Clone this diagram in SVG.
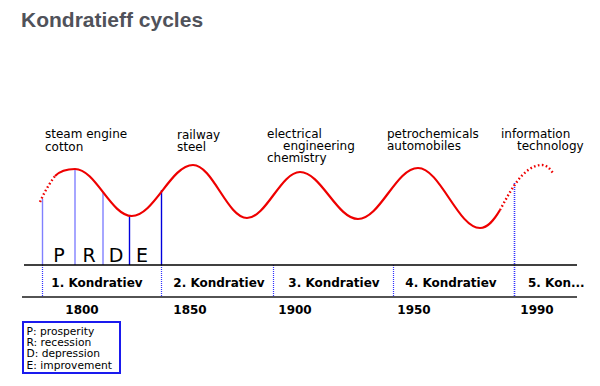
<svg xmlns="http://www.w3.org/2000/svg" width="600" height="386" viewBox="0 0 600 386">
<style>
.title{font-family:"Liberation Sans",Arial,sans-serif;font-weight:bold;font-size:21px;fill:#50525a}
.lbl{font-family:"DejaVu Sans",sans-serif;font-size:12px;fill:#000}
.phase{font-family:"DejaVu Sans",sans-serif;font-size:19px;fill:#000;text-anchor:middle}
.kon{font-family:"DejaVu Sans",sans-serif;font-weight:bold;font-size:12px;fill:#000;text-anchor:middle}
.year{font-family:"DejaVu Sans",sans-serif;font-weight:bold;font-size:12px;fill:#000;text-anchor:middle}
.leg{font-family:"DejaVu Sans",sans-serif;font-size:10.7px;fill:#000}
.wave{fill:none;stroke:#ee0000;stroke-width:2.2}
.dots{fill:none;stroke:#ee0000;stroke-width:2.4;stroke-dasharray:1.6,2.4}
.lite{stroke:#8080ff;stroke-width:1.4}
.dark{stroke:#0000dd;stroke-width:1.4}
.div{stroke:#3030ff;stroke-width:1.2;stroke-dasharray:1,1}
.axis{stroke:#000;stroke-width:1.5}
</style>
<text class="title" x="21" y="26.5">Kondratieff cycles</text>

<g id="labels">
<text class="lbl" x="45" y="138">steam engine</text>
<text class="lbl" x="45" y="151">cotton</text>
<text class="lbl" x="177" y="138.5">railway</text>
<text class="lbl" x="177" y="151">steel</text>
<text class="lbl" x="267" y="138">electrical</text>
<text class="lbl" x="283" y="150">engineering</text>
<text class="lbl" x="267" y="162">chemistry</text>
<text class="lbl" x="387" y="138">petrochemicals</text>
<text class="lbl" x="387" y="150">automobiles</text>
<text class="lbl" x="501" y="138">information</text>
<text class="lbl" x="517" y="150">technology</text>
</g>

<g id="connectors">
<line class="lite" x1="42.5" y1="199" x2="42.5" y2="265"/>
<line class="lite" x1="75" y1="169" x2="75" y2="265"/>
<line class="lite" x1="103" y1="193" x2="103" y2="265"/>
<line class="dark" x1="129.5" y1="215" x2="129.5" y2="265"/>
<line class="dark" x1="161.5" y1="190" x2="161.5" y2="265"/>
<line class="div" x1="42.5" y1="265" x2="42.5" y2="297"/>
<line class="div" x1="161.5" y1="265" x2="161.5" y2="297"/>
<line class="div" x1="273.5" y1="265" x2="273.5" y2="297"/>
<line class="div" x1="393.5" y1="265" x2="393.5" y2="297"/>
<line class="div" x1="514.5" y1="183" x2="514.5" y2="297" style="stroke-width:1.6"/>
<line class="axis" x1="24" y1="265" x2="577" y2="265"/>
<line class="axis" x1="22" y1="297" x2="577" y2="297" style="stroke:#1a1a1a"/>
</g>

<g id="wave">
<path class="dots" d="M40,202 C44,193 49,184 55,176"/>
<path class="wave" d="M55,176 C60,171 66,169 75,169 C95.5,169 111,216 131.7,216 C154,216 171,165 193,165 C212.5,165 227.5,218 247,218 C266,218 281,172 300,172 C321,172 337,219 358,219 C380,219 396,168 418,168 C440,168 458,228 480,228 C488,228 494,220 500,210"/>
<path class="dots" d="M500,210 C508,196 522,165 542,165 C547,165 550,169 553,173"/>
</g>

<g id="phases">
<text class="phase" x="59" y="261.5">P</text>
<text class="phase" x="89" y="261.5">R</text>
<text class="phase" x="116" y="261.5">D</text>
<text class="phase" x="142" y="261.5">E</text>
</g>

<g id="kondratievs">
<text class="kon" x="97" y="286.5">1. Kondratiev</text>
<text class="kon" x="219" y="286.5">2. Kondratiev</text>
<text class="kon" x="334" y="286.5">3. Kondratiev</text>
<text class="kon" x="451" y="286.5">4. Kondratiev</text>
<text class="kon" x="528" y="286.5" style="text-anchor:start">5. Kon...</text>
</g>

<g id="years">
<text class="year" x="82" y="314">1800</text>
<text class="year" x="190" y="314">1850</text>
<text class="year" x="295" y="314">1900</text>
<text class="year" x="414" y="314">1950</text>
<text class="year" x="537" y="314">1990</text>
</g>

<g id="legend">
<rect x="23" y="322" width="97" height="51" fill="#fff" stroke="#1a1aee" stroke-width="2"/>
<text class="leg" x="26.5" y="335">P: prosperity</text>
<text class="leg" x="26.5" y="346">R: recession</text>
<text class="leg" x="26.5" y="357">D: depression</text>
<text class="leg" x="26.5" y="369">E: improvement</text>
</g>
</svg>
